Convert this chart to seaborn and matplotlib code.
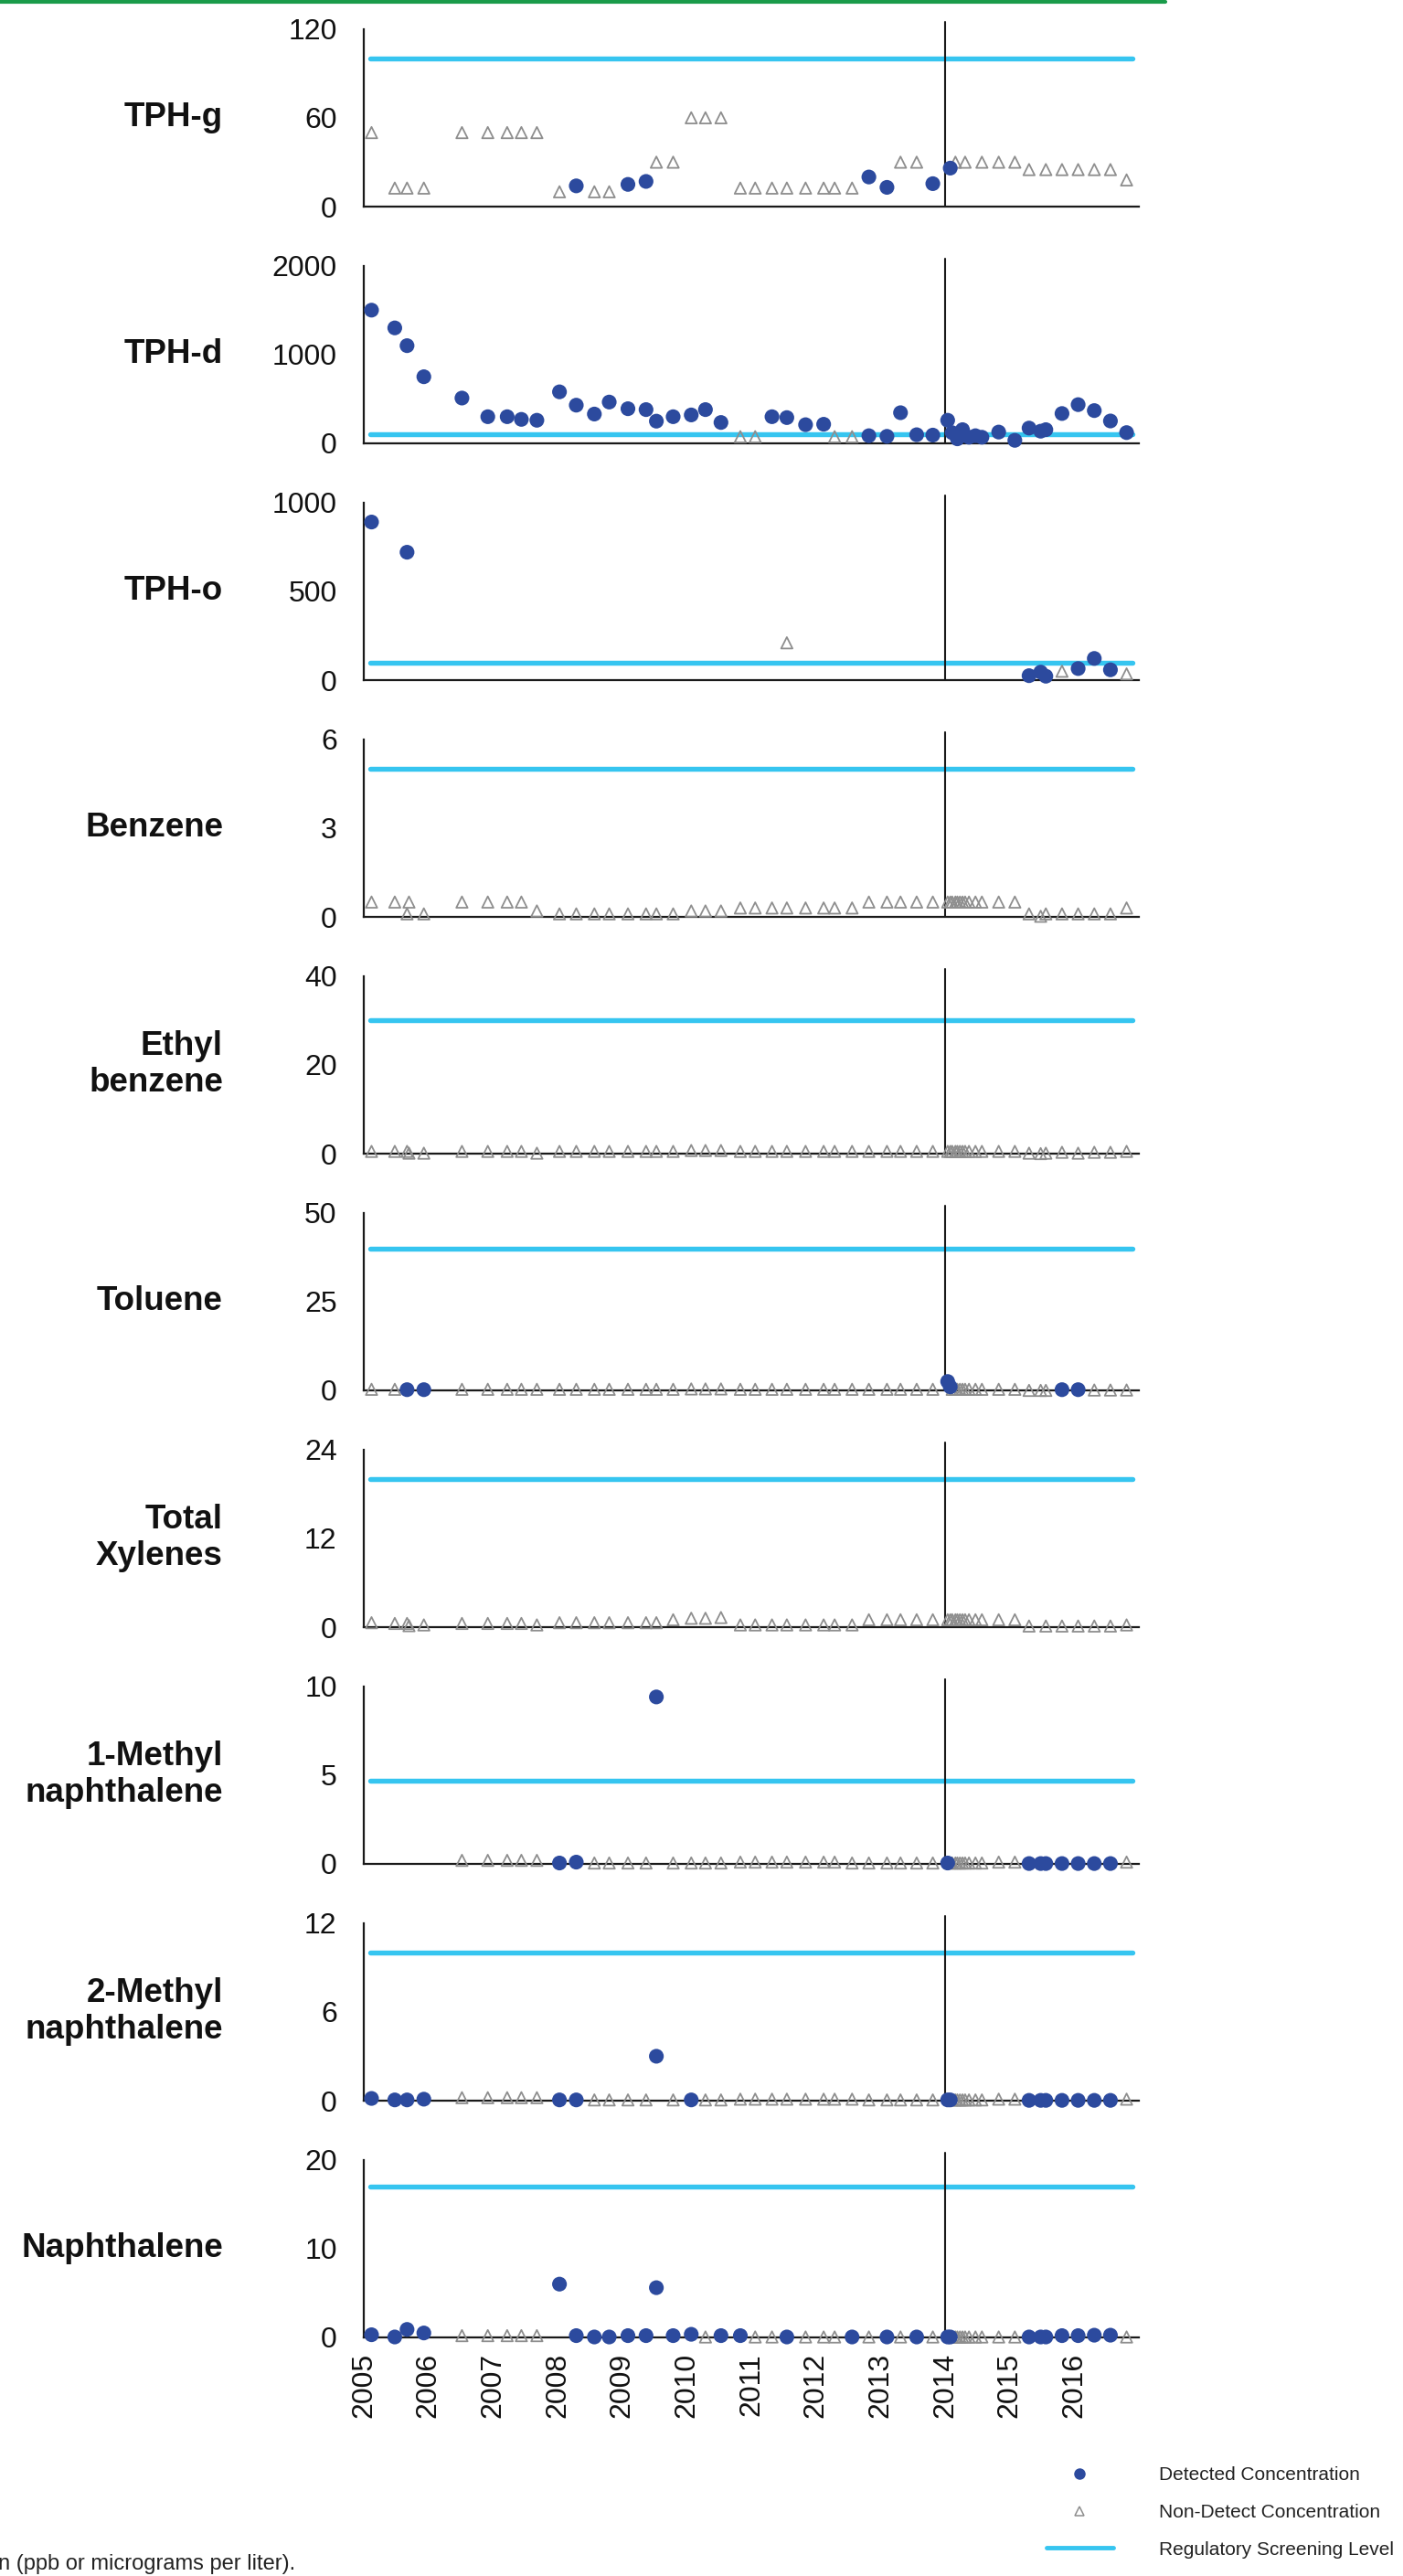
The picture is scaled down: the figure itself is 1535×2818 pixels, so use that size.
import numpy as np
import pandas as pd
import matplotlib
matplotlib.use("Agg")
import matplotlib.pyplot as plt
import seaborn as sns
from matplotlib.lines import Line2D
from matplotlib.ticker import MultipleLocator

# ---------------- data ----------------
dates = [
    2005.12, 2005.48, 2005.67, 2005.70, 2005.93,
    2006.52, 2006.92, 2007.22, 2007.44, 2007.68,
    2008.03, 2008.29, 2008.57, 2008.80, 2009.09,
    2009.37, 2009.53, 2009.79, 2010.07, 2010.29,
    2010.53, 2010.83, 2011.06, 2011.32, 2011.55,
    2011.84, 2012.12, 2012.29, 2012.56, 2012.82,
    2013.10, 2013.31, 2013.56, 2013.81, 2014.04,
    2014.08, 2014.11, 2014.16, 2014.19, 2014.23,
    2014.27, 2014.31, 2014.37, 2014.47, 2014.57,
    2014.83, 2015.08, 2015.30, 2015.48, 2015.56,
    2015.81, 2016.06, 2016.31, 2016.56, 2016.81,
]

# D = detected, N = non-detect, - = not sampled
tphg_val = [50, 12.5, 12.5, None, 12.5,
            50, 50, 50, 50, 50,
            10, 14, 10, 10, 15,
            17, 30, 30, 60, 60,
            60, 12.5, 12.5, 12.5, 12.5,
            12.5, 12.5, 12.5, 12.5, 20,
            13, 30, 30, 15.5, None,
            26, None, 30, None, None,
            None, 30, None, None, 30,
            30, 30, 25, None, 25,
            25, 25, 25, 25, 18]
tphg_flag = "NNN-N NNNNN NDNND DNNNN NNNNN NNNND DNND- D-N-- -N--N NNN-N NNNNN"

tphd_val = [1500, 1300, 1100, None, 750,
            510, 300, 300, 270, 260,
            580, 430, 330, 465, 390,
            380, 250, 300, 320, 380,
            235, 75, 75, 300, 290,
            210, 215, 75, 75, 86,
            79, 345, 97, 93, 260,
            None, 120, None, 51, None,
            154, None, 69, 86, 69,
            127, 34, 172, 137, 154,
            336, 436, 369, 252, 121]
tphd_flag = "DDD-D DDDDD DDDDD DDDDD DNNDD DDNND DDDDD -D-D- D-DDD DDDDD DDDDD"

tpho_val = [890, None, 720, None, None,
            None, None, None, None, None,
            None, None, None, None, None,
            None, None, None, None, None,
            None, None, None, None, 210,
            None, None, None, None, None,
            None, None, None, None, None,
            None, None, None, None, None,
            None, None, None, None, None,
            None, None, 25, 45, 22,
            50, 65, 122, 58, 35]
tpho_flag = "D-D-- ----- ----- ----- ----N ----- ----- ----- ----- --DDD NDDDN"

benz_val = [0.5, 0.5, 0.1, 0.5, 0.1,
            0.5, 0.5, 0.5, 0.5, 0.2,
            0.1, 0.1, 0.1, 0.1, 0.1,
            0.1, 0.1, 0.1, 0.2, 0.2,
            0.2, 0.3, 0.3, 0.3, 0.3,
            0.3, 0.3, 0.3, 0.3, 0.5,
            0.5, 0.5, 0.5, 0.5, 0.5,
            0.5, 0.5, 0.5, 0.5, 0.5,
            0.5, 0.5, 0.5, 0.5, 0.5,
            0.5, 0.5, 0.1, 0.02, 0.1,
            0.1, 0.1, 0.1, 0.1, 0.3]
benz_flag = "NNNNN NNNNN NNNNN NNNNN NNNNN NNNNN NNNNN NNNNN NNNNN NNNNN NNNNN"

ethb_val = [0.5, 0.5, 0.5, 0.1, 0.1,
            0.5, 0.5, 0.5, 0.5, 0.1,
            0.5, 0.5, 0.5, 0.5, 0.5,
            0.5, 0.5, 0.5, 0.7, 0.7,
            0.7, 0.5, 0.5, 0.5, 0.5,
            0.5, 0.5, 0.5, 0.5, 0.5,
            0.5, 0.5, 0.5, 0.5, 0.5,
            0.5, 0.5, 0.5, 0.5, 0.5,
            0.5, 0.5, 0.5, 0.5, 0.5,
            0.5, 0.5, 0.1, 0.0, 0.1,
            0.3, 0.1, 0.3, 0.3, 0.5]
ethb_flag = "NNNNN NNNNN NNNNN NNNNN NNNNN NNNNN NNNNN NNNNN NNNNN NNNNN NNNNN"

tol_val = [0.3, 0.3, 0.2, None, 0.2,
           0.3, 0.3, 0.3, 0.3, 0.3,
           0.3, 0.3, 0.3, 0.3, 0.3,
           0.3, 0.3, 0.3, 0.4, 0.4,
           0.4, 0.3, 0.3, 0.3, 0.3,
           0.3, 0.3, 0.3, 0.3, 0.3,
           0.3, 0.3, 0.3, 0.3, 2.5,
           1.0, 0.3, 0.3, 0.3, 0.3,
           0.3, 0.3, 0.3, 0.3, 0.3,
           0.3, 0.3, 0.0, 0.0, 0.0,
           0.2, 0.2, 0.1, 0.1, 0.1]
tol_flag = "NND-D NNNNN NNNNN NNNNN NNNNN NNNNN NNNND DNNNN NNNNN NNNNN DDNNN"

xyl_val = [0.6, 0.5, 0.5, 0.2, 0.3,
           0.5, 0.5, 0.5, 0.5, 0.3,
           0.6, 0.6, 0.6, 0.6, 0.6,
           0.6, 0.6, 1.0, 1.2, 1.2,
           1.3, 0.3, 0.3, 0.3, 0.3,
           0.3, 0.3, 0.3, 0.3, 1.0,
           1.0, 1.0, 1.0, 1.0, 1.0,
           1.0, 1.0, 1.0, 1.0, 1.0,
           1.0, 1.0, 1.0, 1.0, 1.0,
           1.0, 1.0, 0.15, None, 0.15,
           0.15, 0.15, 0.15, 0.15, 0.3]
xyl_flag = "NNNNN NNNNN NNNNN NNNNN NNNNN NNNNN NNNNN NNNNN NNNNN NNN-N NNNNN"

mn1_val = [None, None, None, None, None,
           0.2, 0.2, 0.2, 0.2, 0.2,
           0.05, 0.1, 0.05, 0.05, 0.05,
           0.05, 9.4, 0.05, 0.05, 0.05,
           0.05, 0.1, 0.1, 0.1, 0.1,
           0.1, 0.1, 0.1, 0.05, 0.05,
           0.05, 0.05, 0.05, 0.05, 0.05,
           0.05, 0.05, 0.05, 0.05, 0.05,
           0.05, 0.05, 0.05, 0.05, 0.05,
           0.1, 0.1, 0.02, 0.02, 0.02,
           0.02, 0.02, 0.02, 0.02, 0.1]
mn1_flag = "----- NNNNN DDNNN NDNNN NNNNN NNNNN NNNND NNNNN NNNNN NNDDD DDDDN"

mn2_val = [0.15, 0.05, 0.05, None, 0.1,
           0.2, 0.2, 0.2, 0.2, 0.2,
           0.05, 0.05, 0.05, 0.05, 0.05,
           0.05, 3.0, 0.05, 0.05, 0.05,
           0.05, 0.1, 0.1, 0.1, 0.1,
           0.1, 0.1, 0.1, 0.1, 0.05,
           0.05, 0.05, 0.05, 0.05, 0.05,
           0.05, 0.05, 0.05, 0.05, 0.05,
           0.05, 0.05, 0.05, 0.05, 0.05,
           0.1, 0.1, 0.02, 0.02, 0.02,
           0.02, 0.02, 0.02, 0.02, 0.1]
mn2_flag = "DDD-D NNNNN DDNNN NDNDN NNNNN NNNNN NNNND DNNNN NNNNN NNDDD DDDDN"

nap_val = [0.3, 0.05, 0.9, None, 0.5,
           0.2, 0.2, 0.2, 0.2, 0.2,
           6.0, 0.2, 0.05, 0.05, 0.2,
           0.2, 5.6, 0.2, 0.35, 0.05,
           0.2, 0.2, 0.05, 0.05, 0.05,
           0.05, 0.05, 0.05, 0.05, 0.05,
           0.05, 0.05, 0.05, 0.05, 0.05,
           0.05, 0.05, 0.05, 0.05, 0.05,
           0.05, 0.05, 0.05, 0.05, 0.05,
           0.05, 0.05, 0.05, 0.05, 0.05,
           0.2, 0.2, 0.25, 0.25, 0.05]
nap_flag = "DDD-D NNNNN DDDDD DDDDN DDNND NNNDN DNDND DNNNN NNNNN NNDDD DDDDN"

labels = ["TPH-g", "TPH-d", "TPH-o", "Benzene", "Ethyl\nbenzene", "Toluene",
          "Total\nXylenes", "1-Methyl\nnaphthalene", "2-Methyl\nnaphthalene", "Naphthalene"]
values = [tphg_val, tphd_val, tpho_val, benz_val, ethb_val, tol_val,
          xyl_val, mn1_val, mn2_val, nap_val]
flags = [tphg_flag, tphd_flag, tpho_flag, benz_flag, ethb_flag, tol_flag,
         xyl_flag, mn1_flag, mn2_flag, nap_flag]
ymax = [120, 2000, 1000, 6, 40, 50, 24, 10, 12, 20]
ymajor = [60, 1000, 500, 3, 20, 25, 12, 5, 6, 10]
yminor = [20, 500, 250, 1, 10, 5, 6, 2.5, 2, 5]
reg_level = [100, 100, 100, 5, 30, 40, 20, 4.7, 10, 17]
reg_span = [2005.1, 2016.9]
event_year = 2014.0
year_ticks = list(range(2005, 2018))
year_labels = [str(y) for y in range(2005, 2017)] + [""]

legend_labels = ["Detected Concentration", "Non-Detect Concentration",
                 "Regulatory Screening Level"]
footnote = "n (ppb or micrograms per liter)."

# ---------------- style ----------------
sns.set_style("white")
plt.rcParams["font.family"] = ["Liberation Sans", "DejaVu Sans"]

BLUE = "#2c4a9e"
GRAY = "#8e8e8e"
CYAN = "#36c5f0"
INK = "#1a1a1a"
GREEN = "#1a9b4a"

W, H = 1535, 2818
fig = plt.figure(figsize=(W / 100, H / 100), dpi=100)

ax_left, ax_width = 398, 848
top0, ax_h, step = 31.7, 194.3, 259.0

for i, lab in enumerate(labels):
    top = top0 + step * i
    rect = [ax_left / W, 1 - (top + ax_h) / H, ax_width / W, ax_h / H]
    ax = fig.add_axes(rect)
    ax.set_facecolor("none")

    fl = flags[i].replace(" ", "")
    df = pd.DataFrame({"year": dates, "value": values[i], "flag": list(fl)})
    df = df[df["flag"] != "-"].astype({"value": float})
    det = df[df["flag"] == "D"]
    nd = df[df["flag"] == "N"]

    # regulatory screening level
    ax.plot(reg_span, [reg_level[i], reg_level[i]], color=CYAN, lw=3.9,
            solid_capstyle="round", zorder=1)
    # event line
    ax.axvline(event_year, ymin=0, ymax=1.04, color=INK, lw=1.5,
               clip_on=False, zorder=2)

    if len(nd):
        sns.scatterplot(data=nd, x="year", y="value", ax=ax, marker="^", s=80,
                        color="none", edgecolor=GRAY, linewidth=1.3,
                        clip_on=False, zorder=3, legend=False)
    if len(det):
        sns.scatterplot(data=det, x="year", y="value", ax=ax, marker="o", s=135,
                        color=BLUE, edgecolor="none", linewidth=0,
                        clip_on=False, zorder=4, legend=False)

    ax.set_xlim(2005, 2017)
    ax.set_ylim(0, ymax[i])
    ax.set_xlabel("")
    ax.set_ylabel("")

    for side in ["top", "right"]:
        ax.spines[side].set_visible(False)
    for side in ["left", "bottom"]:
        ax.spines[side].set_color(INK)
        ax.spines[side].set_linewidth(1.6)
        ax.spines[side].set_zorder(2.5)

    ax.set_xticks(year_ticks)
    ax.xaxis.set_minor_locator(MultipleLocator(0.5))
    ax.yaxis.set_minor_locator(MultipleLocator(yminor[i]))
    ax.set_yticks(np.arange(0, ymax[i] + ymajor[i] / 2, ymajor[i]))

    ax.tick_params(axis="both", which="major", direction="inout", length=13.3,
                   width=1.5, color=INK, labelsize=23, labelcolor="#111111")
    ax.tick_params(axis="both", which="minor", direction="out", length=5.2,
                   width=1.3, color=INK)
    ax.tick_params(axis="y", which="major", pad=14.5)
    ax.tick_params(axis="x", which="major", pad=5.6)

    if i == len(labels) - 1:
        ax.set_xticklabels(year_labels, rotation=90, ha="center", va="top")
    else:
        ax.tick_params(axis="x", labelbottom=False)

    yc = 1 - (top + ax_h / 2) / H
    fig.text(244 / W, yc, lab, ha="right", va="center", fontsize=26.5,
             fontweight="bold", linespacing=1.18, multialignment="right",
             color="#111111")

# top green rule
fig.add_artist(Line2D([0, 1275 / W], [1 - 2 / H, 1 - 2 / H],
                      transform=fig.transFigure, color=GREEN, lw=3.0))

# legend
handles = [
    Line2D([], [], ls="none", marker="o", ms=9, color=BLUE, mec="none"),
    Line2D([], [], ls="none", marker="^", ms=7.5, mfc="none", mec=GRAY, mew=1.1),
    Line2D([], [], color=CYAN, lw=3.5),
]
fig.legend(handles, legend_labels, loc="upper left",
           bbox_to_anchor=(1145 / W, 1 - 2698 / H), frameon=False, fontsize=15,
           handlelength=3.5, handletextpad=2.4, labelspacing=1.05,
           borderpad=0, borderaxespad=0, labelcolor="#222222")

fig.text(-2 / W, 1 - 2805 / H, footnote, ha="left", va="center", fontsize=17,
         color="#222222")

fig.savefig("out.png", dpi=100)
